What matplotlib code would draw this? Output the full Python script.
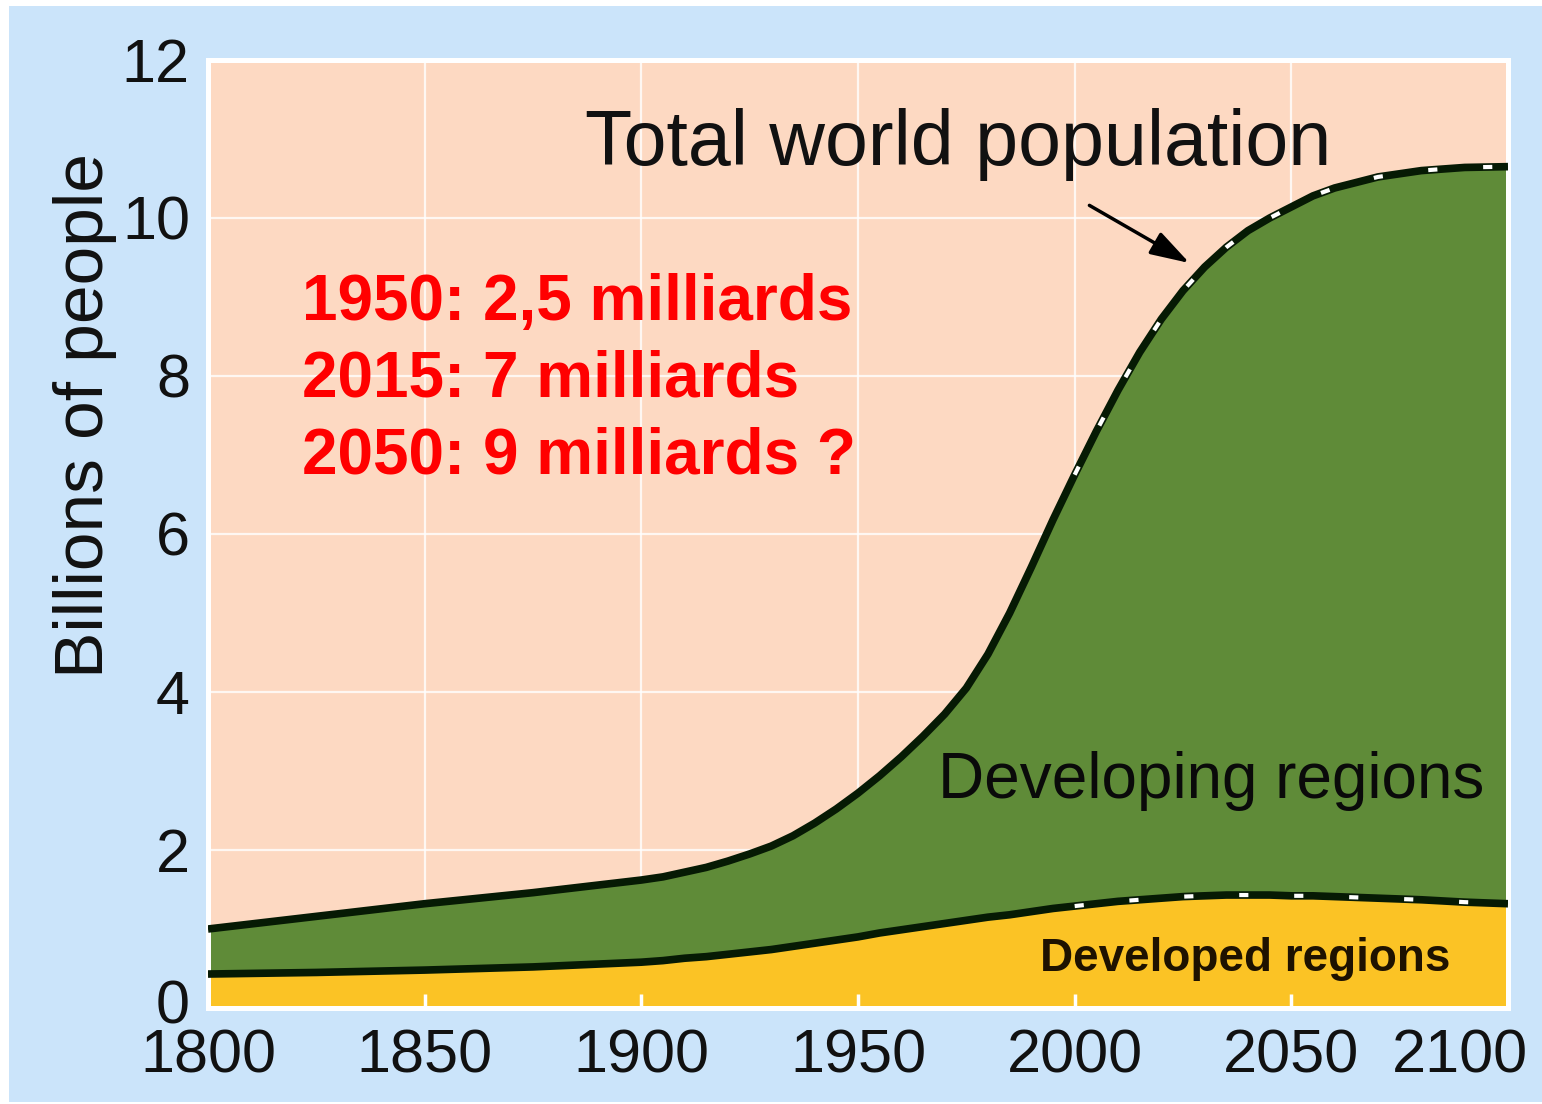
import matplotlib.pyplot as plt
import matplotlib.transforms as mtransforms
from matplotlib.patches import Rectangle
import numpy as np

plt.rcParams['font.family'] = ['Liberation Sans', 'DejaVu Sans']

# values (billions)
years = np.array([1800, 1825, 1850, 1875, 1900, 1905, 1910, 1915, 1920, 1925,
                  1930, 1935, 1940, 1945, 1950, 1955, 1960, 1965, 1970, 1975,
                  1980, 1985, 1990, 1995, 2000, 2005, 2010, 2015, 2020, 2025,
                  2030, 2035, 2040, 2045, 2050, 2055, 2060, 2070, 2080, 2090,
                  2100])
total = np.array([1.0, 1.16, 1.32, 1.46, 1.62, 1.66, 1.72, 1.78, 1.86, 1.95,
                  2.05, 2.18, 2.34, 2.52, 2.72, 2.94, 3.18, 3.44, 3.72, 4.05,
                  4.48, 5.0, 5.58, 6.18, 6.75, 7.3, 7.82, 8.3, 8.72, 9.08,
                  9.38, 9.63, 9.84, 10.0, 10.14, 10.28, 10.38, 10.52, 10.6, 10.64,
                  10.65])
developed = np.array([0.43, 0.45, 0.48, 0.52, 0.58, 0.6, 0.63, 0.65, 0.68, 0.71,
                      0.74, 0.78, 0.82, 0.86, 0.9, 0.95, 0.99, 1.03, 1.07, 1.11,
                      1.15, 1.18, 1.22, 1.26, 1.29, 1.32, 1.35, 1.37, 1.39, 1.41,
                      1.42, 1.43, 1.43, 1.43, 1.42, 1.42, 1.41, 1.39, 1.37, 1.34,
                      1.32])
projection_start = 2000

x_ticks = [1800, 1850, 1900, 1950, 2000, 2050, 2100]
y_ticks = [0, 2, 4, 6, 8, 10, 12]

notes = ["1950: 2,5 milliards", "2015: 7 milliards", "2050: 9 milliards ?"]

W, H = 1542, 1104
fig = plt.figure(figsize=(W / 100, H / 100), dpi=100)
fig.patch.set_facecolor('white')
fig.patches.append(Rectangle((9 / W, 2 / H), 1 - 9 / W, 1096 / H,
                             transform=fig.transFigure, facecolor='#cbe4fa',
                             edgecolor='none', zorder=-10))

ax = fig.add_axes([208 / W, 1 - 1008 / H, 1300 / W, 948 / H])
ax.set_facecolor('#fdd9c2')
ax.set_xlim(1800, 2100)
ax.set_ylim(0, 12)

for yr in x_ticks:
    ax.axvline(yr, color='white', lw=1.6, alpha=0.8, zorder=0.5)
for v in y_ticks:
    ax.axhline(v, color='white', lw=1.6, alpha=0.8, zorder=0.5)

green = '#5f8b38'
yellow = '#fbc325'
dark = '#061a04'
ax.fill_between(years, 0, developed, color=yellow, lw=0, zorder=1)
ax.fill_between(years, developed, total, color=green, lw=0, zorder=1)
ax.plot(years, total, color=dark, lw=5.5, zorder=3, solid_capstyle='butt',
        solid_joinstyle='round')
ax.plot(years, developed, color=dark, lw=5.5, zorder=3, solid_capstyle='butt',
        solid_joinstyle='round')

m = years >= projection_start
ax.plot(years[m], total[m], color='white', lw=3, dashes=(2.2, 11), zorder=4)
ax.plot(years[m], developed[m], color='white', lw=3, dashes=(2.2, 11), zorder=4)

ax.set_xticks(x_ticks)
ax.set_yticks(y_ticks)
ax.tick_params(axis='x', direction='in', length=10, width=2.5, color='white',
               labelsize=44, pad=15, labelcolor='#111111')
ax.tick_params(axis='y', length=0, labelsize=44, pad=13, labelcolor='#111111')
for s in ax.spines.values():
    s.set_color('white')
    s.set_linewidth(3.6)

ax.set_ylabel('Billions of people', fontsize=50, color='#111111')
ax.yaxis.set_label_coords(-0.07, 0.6255)

# the "2100" label sits left of its tick in the original, the "0" a bit higher
lbl = ax.get_xticklabels()[-1]
lbl.set_transform(lbl.get_transform() +
                  mtransforms.ScaledTranslation(-0.48, 0, fig.dpi_scale_trans))
lbl0 = ax.get_yticklabels()[0]
lbl0.set_transform(lbl0.get_transform() +
                   mtransforms.ScaledTranslation(0, 0.06, fig.dpi_scale_trans))

ax.text(1886.9, 10.67, 'Total world population', fontsize=55.5,
        color='#111111', ha='left', va='baseline', zorder=5)
ax.annotate('', xy=(2026.5, 9.43), xytext=(2003.4, 10.16),
            arrowprops=dict(arrowstyle='-|>,head_length=0.8,head_width=0.25',
                            color='black', lw=2.5, mutation_scale=30,
                            shrinkA=0, shrinkB=0), zorder=5)

for i, line in enumerate(notes):
    ax.text(1821.7, 8.71 - i * 0.97, line, fontsize=46, fontweight='bold',
            color='#ff0000', ha='left', va='baseline', zorder=5)

ax.text(1968.5, 2.66, 'Developing regions', fontsize=46, color='#0a0a0a',
        ha='left', va='baseline', zorder=5)
ax.text(1992.0, 0.47, 'Developed regions', fontsize=33, fontweight='bold',
        color='#1e1200', ha='left', va='baseline', zorder=5)

fig.savefig('out.png', dpi=100)
